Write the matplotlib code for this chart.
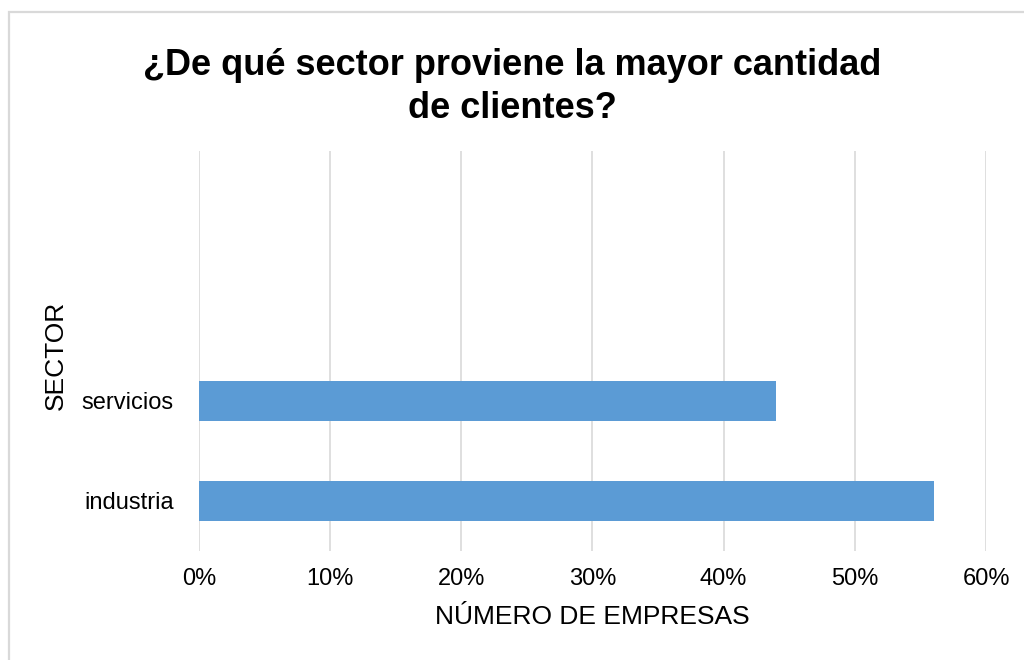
import matplotlib.pyplot as plt
from matplotlib.patches import Rectangle
from matplotlib.ticker import PercentFormatter

# Datos de la encuesta
sectores = ['industria', 'servicios']
porcentajes = [56, 44]
marcas_x = [0, 10, 20, 30, 40, 50, 60]

plt.rcParams['font.family'] = ['Liberation Sans', 'DejaVu Sans']

fig = plt.figure(figsize=(10.24, 6.6), dpi=100)
ax = fig.add_axes([0.1943, 0.1652, 0.7686, 0.606])

# Marco gris alrededor del gráfico
fig.patches.append(Rectangle((8.5 / 1024, -0.1), 1.2, 1 - 11.5 / 660 + 0.1,
                             transform=fig.transFigure, fill=False,
                             edgecolor='#d9d9d9', linewidth=1.6))

posiciones = range(len(sectores))
ax.barh(posiciones, porcentajes, height=0.4, color='#5b9bd5', zorder=3)

ax.set_xlim(0, 60)
ax.set_ylim(-0.5, 3.5)
ax.set_xticks(marcas_x)
ax.xaxis.set_major_formatter(PercentFormatter(decimals=0))
ax.set_yticks(list(posiciones))
ax.set_yticklabels(sectores)
ax.grid(axis='x', color='#d9d9d9', linewidth=1.2, zorder=0)
for lado in ax.spines.values():
    lado.set_visible(False)
ax.tick_params(length=0, labelsize=17, colors='#000000')
ax.tick_params(axis='x', pad=12)
ax.tick_params(axis='y', pad=18)

ax.set_xlabel('NÚMERO DE EMPRESAS', fontsize=19, va='center')
ax.xaxis.set_label_coords(0.5, -0.165)
ax.set_ylabel('SECTOR', fontsize=19, va='center')
ax.yaxis.set_label_coords(-0.182, 0.49)

fig.text(0.5, 1 - 87 / 660, '¿De qué sector proviene la mayor cantidad\nde clientes?',
         ha='center', va='center', fontsize=26, fontweight='bold',
         linespacing=1.32)

fig.savefig('out.png', dpi=100)
